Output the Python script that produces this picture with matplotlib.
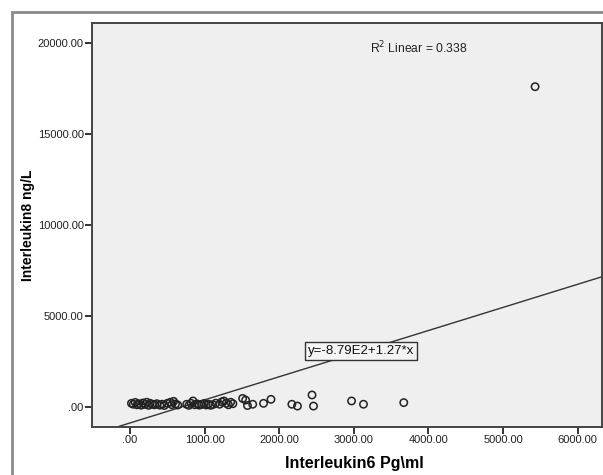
import matplotlib.pyplot as plt
from matplotlib.patches import Rectangle
from matplotlib.ticker import FuncFormatter

plt.rcParams["font.family"] = ["Liberation Sans", "DejaVu Sans"]

# Interleukin6 (Pg\ml) vs Interleukin8 (ng/L)
il6 = [
    20, 45, 70, 95, 120, 150, 175, 200, 225, 250, 270, 300, 330, 360,
    400, 430, 460, 500, 540, 560, 585, 610, 640, 760, 790, 820, 845,
    870, 900, 930, 960, 990, 1020, 1050, 1080, 1110, 1150, 1200, 1230,
    1260, 1290, 1320, 1350, 1380, 1510, 1550, 1575, 1645, 1790, 1890,
    2170, 2245, 2440, 2460, 2970, 3130, 3670, 5430,
]
il8 = [
    200, 150, 250, 120, 180, 100, 220, 140, 260, 90, 200, 150, 120, 180,
    100, 150, 80, 200, 260, 130, 310, 170, 110, 150, 90, 200, 330,
    120, 170, 100, 140, 190, 110, 160, 90, 130, 210, 150, 280,
    330, 200, 120, 260, 180, 470, 380, 80, 150, 200, 420,
    150, 50, 660, 50, 330, 150, 240, 17600,
]

# fit line reported by SPSS
intercept = -879.0
slope = 1.27
r2 = 0.338

x_ticks = [0, 1000, 2000, 3000, 4000, 5000, 6000]
y_ticks = [0, 5000, 10000, 15000, 20000]


def spss_fmt(v, _pos=None):
    s = f"{v:.2f}"
    return s[1:] if s.startswith("0") else s


fig = plt.figure(figsize=(6.03, 4.75), dpi=100)
fig.patches.append(
    Rectangle((12 / 603, -0.05), 1.2, (475 - 12) / 475 + 0.05,
              transform=fig.transFigure, fill=False,
              edgecolor="#8a8a8a", linewidth=2.0)
)

ax = fig.add_axes([92 / 603, 48 / 475, 510 / 603, 404 / 475])
ax.set_facecolor("#efefef")

ax.set_xlim(-509, 6327)
ax.set_ylim(-1100, 21100)

xs = [ax.get_xlim()[0], ax.get_xlim()[1]]
ax.plot(xs, [intercept + slope * v for v in xs], color="#333333",
        linewidth=1.0, zorder=2)

ax.scatter(il6, il8, s=28, facecolors="none", edgecolors="#222222",
           linewidths=1.1, zorder=3)

ax.set_xticks(x_ticks)
ax.set_yticks(y_ticks)
ax.xaxis.set_major_formatter(FuncFormatter(spss_fmt))
ax.yaxis.set_major_formatter(FuncFormatter(spss_fmt))
ax.tick_params(direction="out", length=5, width=1.4, color="#333333",
               labelsize=8, labelcolor="#222222", pad=1)

for sp in ax.spines.values():
    sp.set_color("#444444")
    sp.set_linewidth(1.4)

ax.set_xlabel("Interleukin6 Pg\\ml", fontsize=11.5, fontweight="bold")
ax.xaxis.set_label_coords((354 - 92) / 510, -(456 - 427) / 404)
ax.xaxis.label.set_va("top")
ax.set_ylabel("Interleukin8 ng/L", fontsize=10, fontweight="bold")
ax.yaxis.set_label_coords(-(92 - 35) / 510, 0.5)

ax.text(0.545, 0.938, f"R$^2$ Linear = {r2:.3f}", transform=ax.transAxes,
        fontsize=8.7, ha="left", va="center", color="#222222")

lx = 3100
ax.text(lx, intercept + slope * lx, "y=-8.79E2+1.27*x", fontsize=9.5,
        ha="center", va="center", color="#111111", zorder=4,
        bbox=dict(boxstyle="square,pad=0.22", facecolor="#f4f4f4",
                  edgecolor="#333333", linewidth=1.0))

fig.savefig("out.png", dpi=100)
